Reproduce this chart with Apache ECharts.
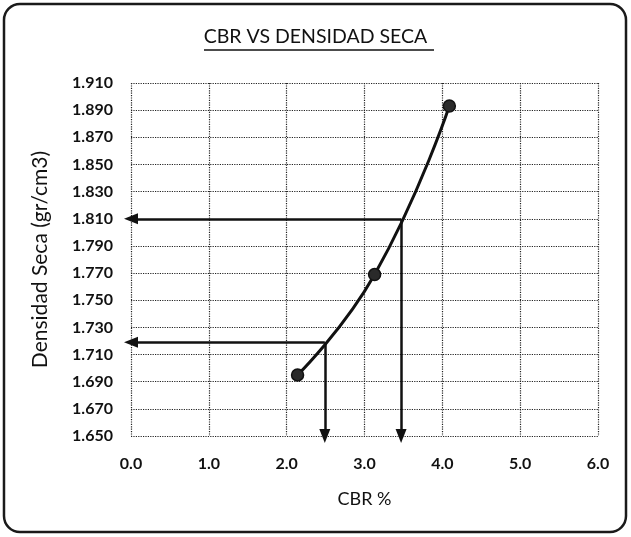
<!DOCTYPE html>
<html>
<head>
<meta charset="utf-8">
<script src="https://cdn.jsdelivr.net/npm/echarts@6/dist/echarts.min.js"></script>
<style>
  html, body { margin: 0; padding: 0; background: #fff; }
  #chart { width: 631px; height: 537px; }
</style>
</head>
<body>
<div id="chart"></div>
<script>
// Measured points: CBR (%) against dry density (gr/cm3)
const cbrValues = [2.14, 3.13, 4.09];
const densityValues = [1.695, 1.769, 1.893];

// Readings taken off the curve (design values)
const readCbr = [3.47, 2.49];
const readDensity = [1.810, 1.719];

// Axis ticks
const xTicks = [0, 1, 2, 3, 4, 5, 6];
const yTicks = [1.650, 1.670, 1.690, 1.710, 1.730, 1.750, 1.770, 1.790,
                1.810, 1.830, 1.850, 1.870, 1.890, 1.910];

const FONT = 'Lato, "Open Sans", sans-serif';

const chart = echarts.init(document.getElementById('chart'));

// Each reading: a horizontal arrow to the density axis and a vertical arrow to the CBR axis
const arrowLines = [];
readCbr.forEach((c, i) => {
  const d = readDensity[i];
  arrowLines.push([{ coord: [c, d] }, { coord: [xTicks[0], d] }]);
  arrowLines.push([{ coord: [c, d] }, { coord: [c, yTicks[0]] }]);
});

const option = {
  animation: false,
  backgroundColor: '#fff',
  grid: { left: 131, right: 33, top: 83, bottom: 101 },
  graphic: [
    {
      type: 'rect',
      shape: { x: 4, y: 4, width: 622, height: 528, r: 16 },
      style: { fill: 'none', stroke: '#1a1a1a', lineWidth: 2.5 },
      z: 10
    },
    {
      type: 'text',
      left: 'center',
      top: 27,
      style: { text: 'CBR VS DENSIDAD SECA', font: '19.5px ' + FONT, fill: '#111' }
    },
    {
      type: 'line',
      shape: { x1: 204, y1: 50, x2: 434, y2: 50 },
      style: { stroke: '#111', lineWidth: 1.4 }
    }
  ],
  xAxis: {
    type: 'value',
    min: xTicks[0],
    max: xTicks[xTicks.length - 1],
    interval: 1,
    name: 'CBR %',
    nameLocation: 'middle',
    nameGap: 54,
    nameTextStyle: { fontFamily: FONT, fontSize: 18, color: '#111' },
    axisLine: { show: false },
    axisTick: { show: false },
    axisLabel: {
      margin: 20,
      fontFamily: FONT, fontSize: 16, fontWeight: 'bold', color: '#111',
      formatter: v => v.toFixed(1)
    },
    splitLine: { show: true, lineStyle: { type: 'dotted', color: '#222', width: 1.2 } }
  },
  yAxis: {
    type: 'value',
    min: yTicks[0],
    max: yTicks[yTicks.length - 1],
    name: 'Densidad Seca (gr/cm3)',
    nameLocation: 'middle',
    nameGap: 80,
    nameTextStyle: { fontFamily: FONT, fontSize: 21, color: '#111' },
    axisLine: { show: false },
    axisTick: { show: false, customValues: yTicks },
    axisLabel: {
      customValues: yTicks,
      margin: 18,
      fontFamily: FONT, fontSize: 16, fontWeight: 'bold', color: '#111',
      formatter: v => v.toFixed(3)
    },
    splitLine: { show: true, lineStyle: { type: 'dotted', color: '#222', width: 1.2 } }
  },
  series: [
    {
      type: 'line',
      data: cbrValues.map((c, i) => [c, densityValues[i]]),
      smooth: 0.5,
      symbol: 'circle',
      symbolSize: 12,
      lineStyle: { color: '#111', width: 3 },
      itemStyle: { color: '#2a2a2a', borderColor: '#111', borderWidth: 1.5 },
      z: 5,
      markLine: {
        silent: true,
        symbol: ['none', 'triangle'],
        symbolSize: [11, 14],
        label: { show: false },
        lineStyle: { color: '#111', width: 2.5, type: 'solid' },
        data: arrowLines
      }
    }
  ]
};

chart.setOption(option);
</script>
</body>
</html>
